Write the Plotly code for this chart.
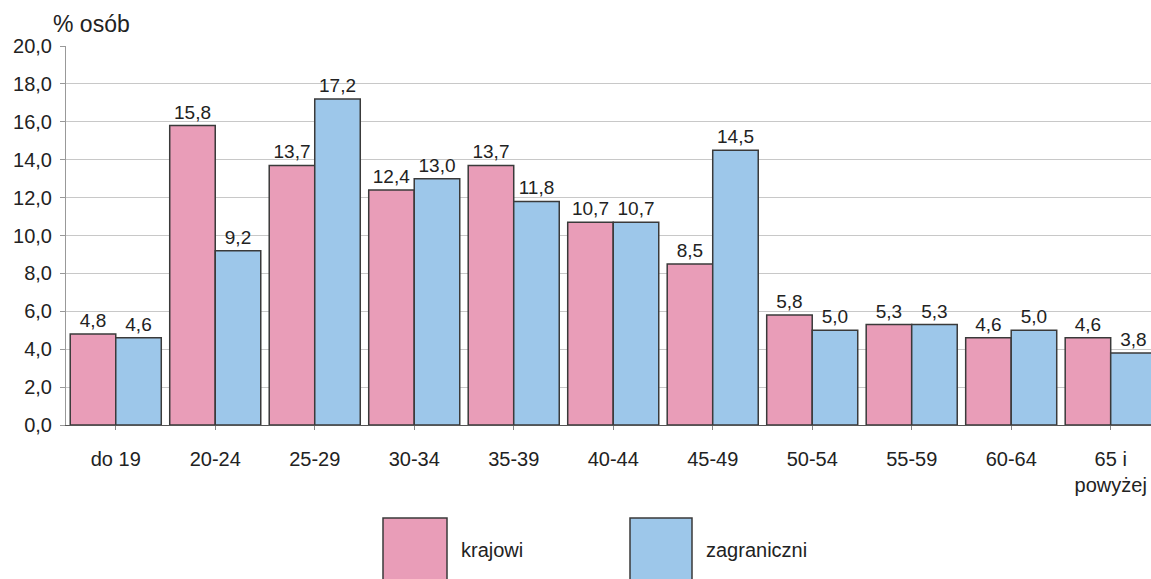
import plotly.graph_objects as go

categories = ["do 19", "20-24", "25-29", "30-34", "35-39", "40-44", "45-49",
              "50-54", "55-59", "60-64", "65 i<br>powyżej"]
krajowi = [4.8, 15.8, 13.7, 12.4, 13.7, 10.7, 8.5, 5.8, 5.3, 4.6, 4.6]
zagraniczni = [4.6, 9.2, 17.2, 13.0, 11.8, 10.7, 14.5, 5.0, 5.3, 5.0, 3.8]
y_ticks = [0, 2, 4, 6, 8, 10, 12, 14, 16, 18, 20]

PINK = "#E99DB8"
BLUE = "#9DC7EA"
EDGE = "#3a3a3a"
FONT = "Liberation Sans, Arial, sans-serif"

W, H = 1151, 579
L, R, T, B = 66, 0, 46, 154
pw, ph = W - L - R, H - T - B


def px_x(x):
    return (x - L) / pw


def px_y(y):
    return (H - B - y) / ph


fig = go.Figure()
for name, vals, col in [("krajowi", krajowi, PINK), ("zagraniczni", zagraniczni, BLUE)]:
    fig.add_trace(go.Bar(
        x=list(range(len(categories))), y=vals, name=name,
        marker=dict(color=col, line=dict(color=EDGE, width=1.5)),
        text=vals, texttemplate="%{y:.1f}", textposition="outside",
        textfont=dict(family=FONT, size=19, color="#222"),
        cliponaxis=False, showlegend=False,
    ))

# legend drawn as large swatches below the plot
shapes = []
annotations = []
for x0, x1, col, label, tx in [(383, 447, PINK, "krajowi", 459),
                                (630, 692, BLUE, "zagraniczni", 704)]:
    shapes.append(dict(type="rect", xref="paper", yref="paper",
                       x0=px_x(x0), x1=px_x(x1), y0=px_y(518), y1=px_y(590),
                       fillcolor=col, line=dict(color=EDGE, width=1.5)))
    annotations.append(dict(xref="paper", yref="paper", x=px_x(tx), y=px_y(550),
                            text=label, showarrow=False, xanchor="left",
                            yanchor="middle",
                            font=dict(family=FONT, size=20, color="#222")))

annotations.append(dict(xref="paper", yref="paper", x=px_x(51), y=px_y(24),
                        text="% osób", showarrow=False, xanchor="left",
                        yanchor="middle",
                        font=dict(family=FONT, size=23, color="#222")))

fig.update_layout(
    width=W, height=H,
    margin=dict(l=L, r=R, t=T, b=B, pad=0),
    paper_bgcolor="white", plot_bgcolor="white",
    barmode="group", bargap=0.085, bargroupgap=0,
    separators=", ",
    font=dict(family=FONT, size=20, color="#222"),
    shapes=shapes, annotations=annotations,
    xaxis=dict(
        tickmode="array", tickvals=list(range(len(categories))),
        ticktext=categories, range=[-0.5, 10.405],
        showgrid=False, showline=True, linecolor="#555", linewidth=1,
        ticks="outside", tickson="boundaries", ticklen=4, tickcolor="#888",
        ticklabelstandoff=12,
        tickfont=dict(family=FONT, size=20, color="#222"),
        fixedrange=True,
    ),
    yaxis=dict(
        range=[0, 20], tickvals=y_ticks, tickformat=".1f",
        showgrid=True, gridcolor="#c8c8c8", gridwidth=1,
        showline=True, linecolor="#999", linewidth=1,
        ticks="outside", ticklen=5, tickcolor="#999",
        ticklabelstandoff=4,
        tickfont=dict(family=FONT, size=20, color="#222"),
        zeroline=False, fixedrange=True,
    ),
)

fig.write_html("out.html")
